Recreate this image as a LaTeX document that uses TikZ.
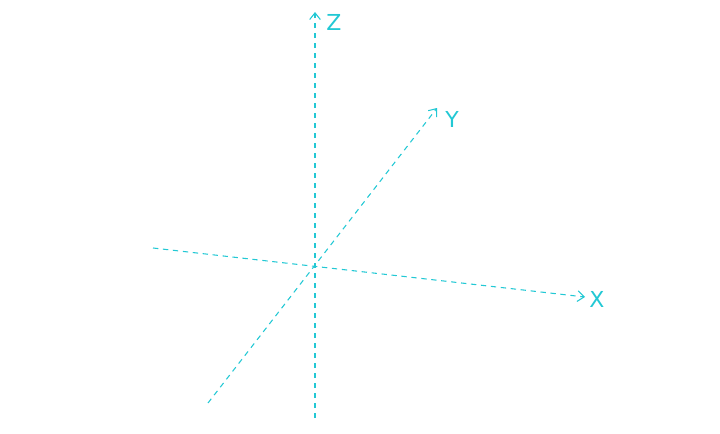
\documentclass[tikz,border=0pt]{standalone}
\usepackage{fontspec}
\setmainfont{DejaVu Sans}
\usetikzlibrary{arrows.meta}
\definecolor{axc}{RGB}{34,200,212}
\begin{document}
\begin{tikzpicture}[x=0.75pt,y=-0.75pt,
  axis/.style={draw=axc,line width=0.8pt,dash pattern=on 4pt off 3.5pt,-{Straight Barb[length=5pt,width=8pt]}},
  axlabel/.style={text=axc,font=\fontsize{16.5}{16.5}\selectfont,inner sep=0pt}]
\useasboundingbox (0,0) rectangle (720,433);
\coordinate (zs) at (315,418);
\coordinate (ze) at (315,12);
\coordinate (ys) at (208,403);
\coordinate (ye) at (437,108);
\coordinate (xs) at (153,248);
\coordinate (xe) at (585,297);
\draw[axis] (zs) -- (ze);
\draw[axis] (ys) -- (ye);
\draw[axis] (xs) -- (xe);
\node[axlabel] (zl) at (334,22) {Z};
\node[axlabel] (yl) at (452,119) {Y};
\node[axlabel] (xl) at (597,299) {X};
\end{tikzpicture}
\end{document}
